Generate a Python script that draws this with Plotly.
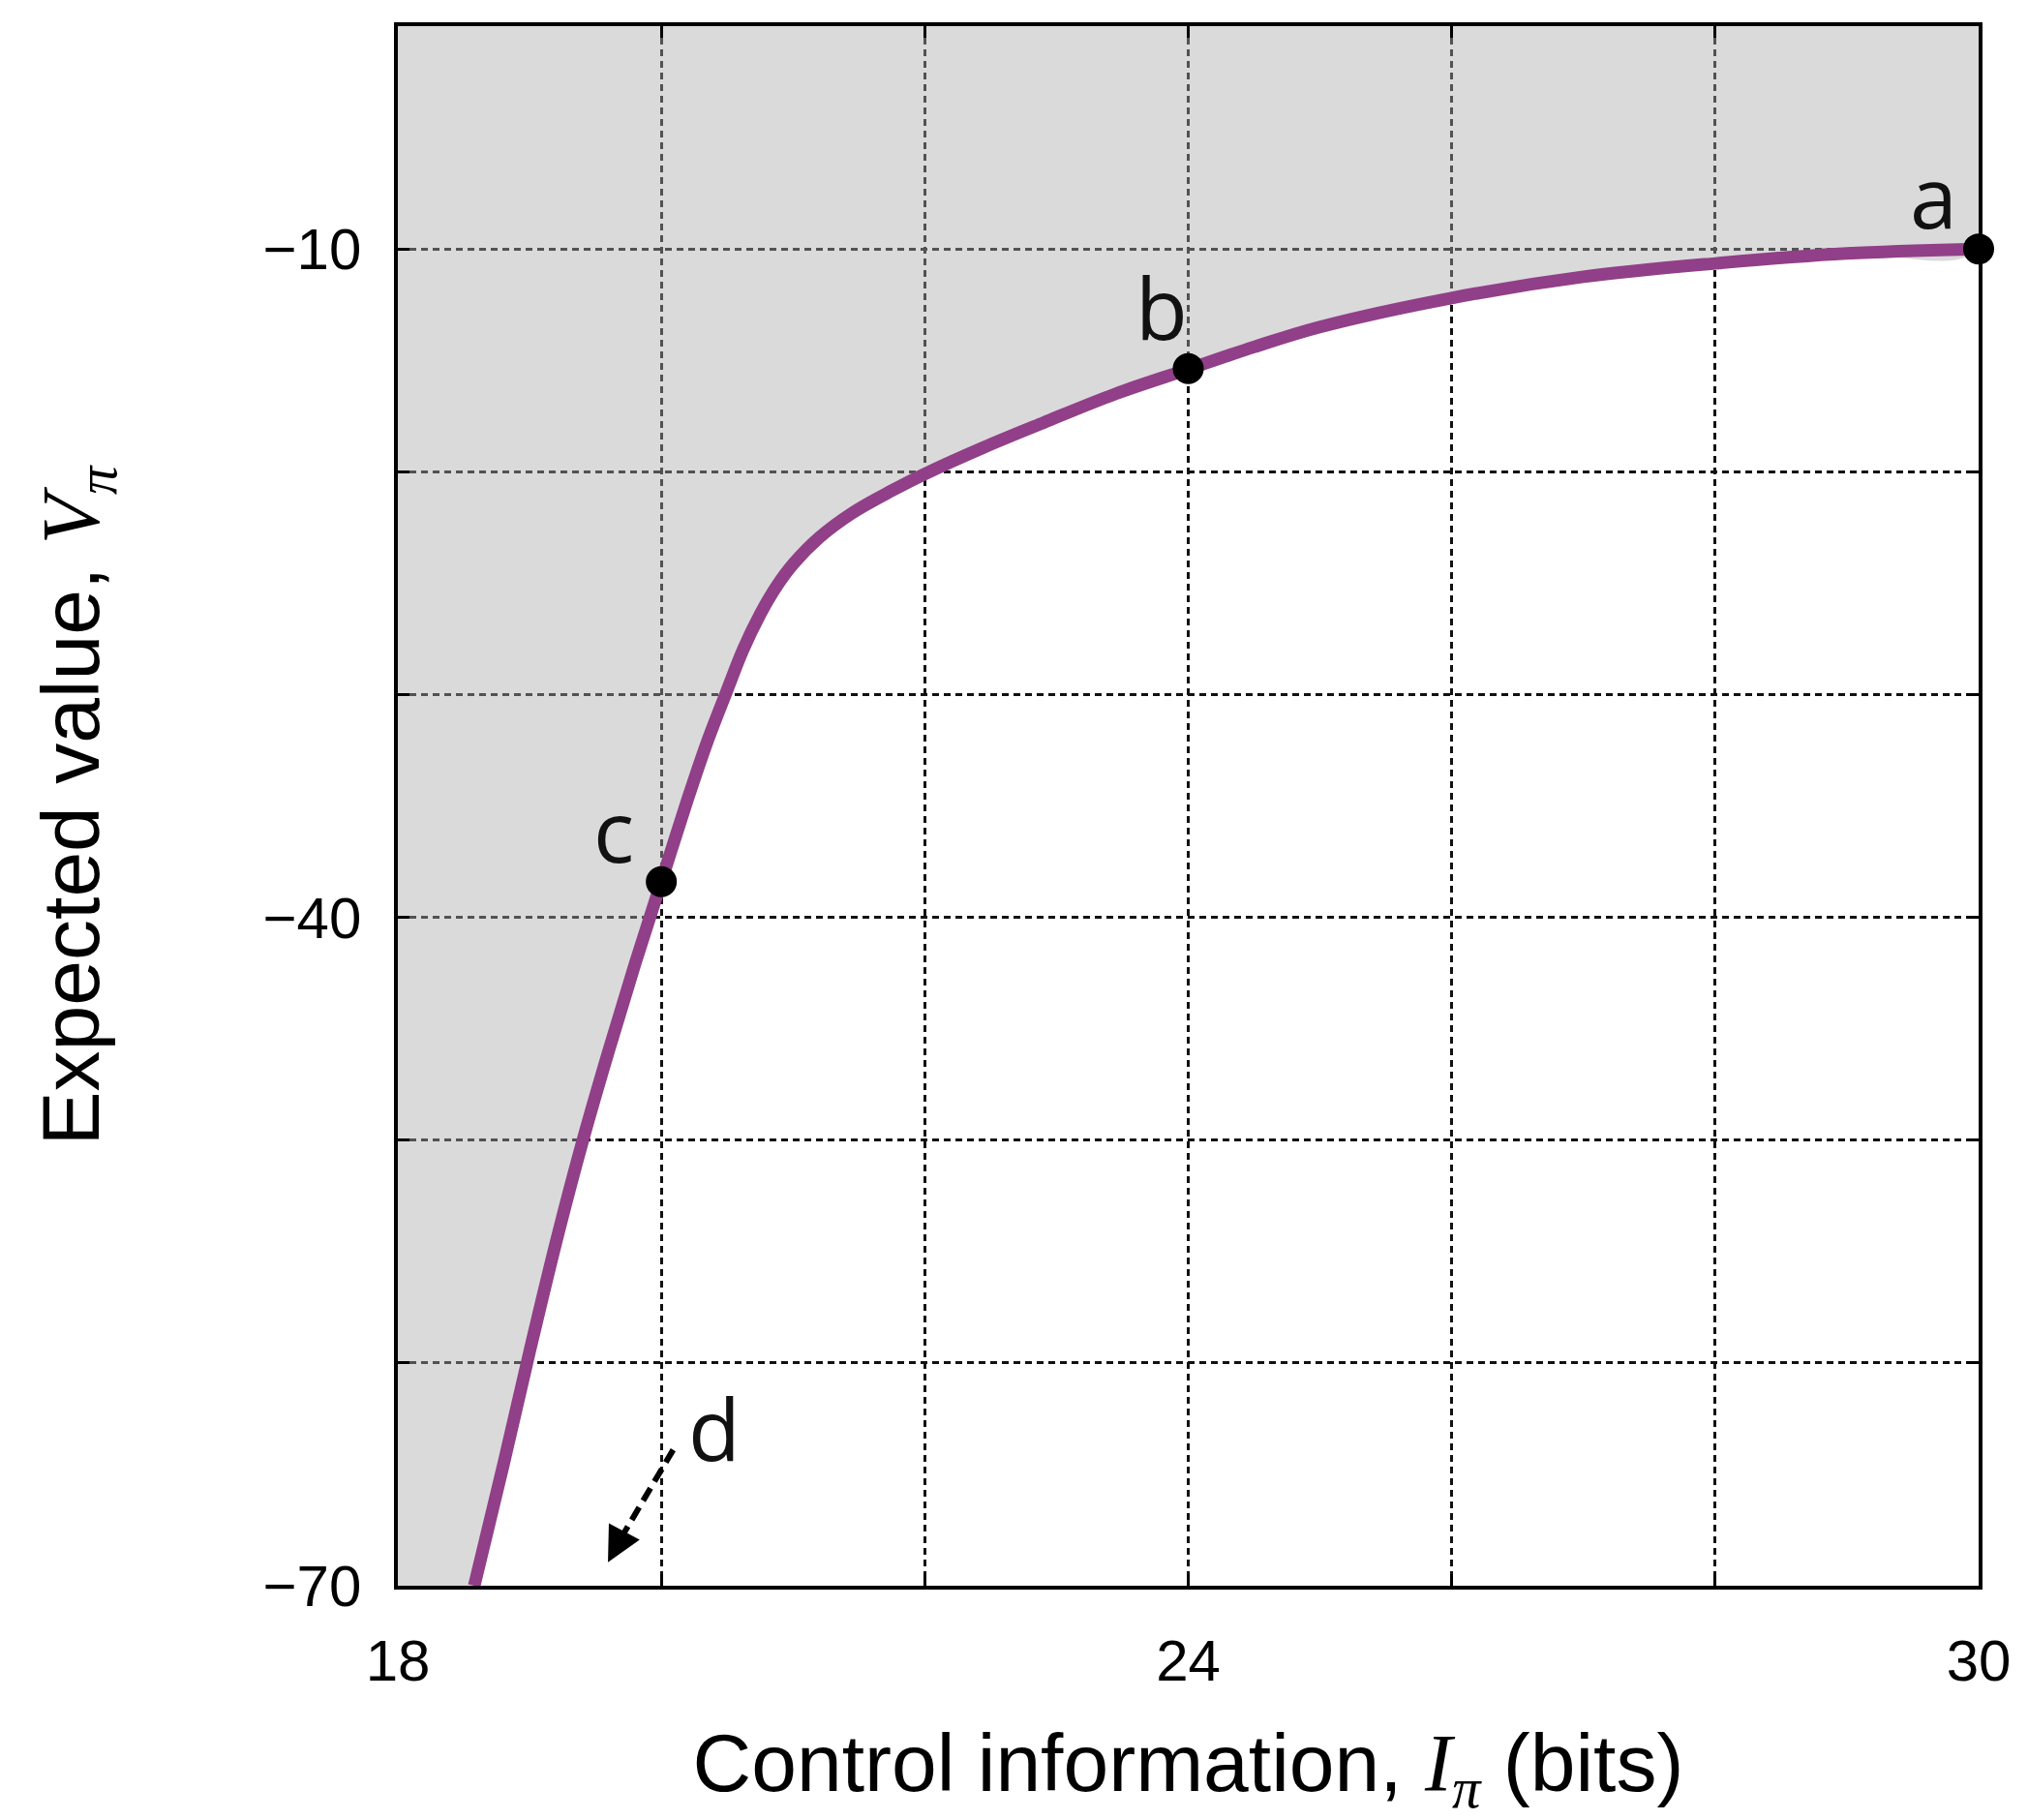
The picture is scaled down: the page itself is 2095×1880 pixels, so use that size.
import plotly.graph_objects as go

# ---- data ----
curve_x = [18.58, 18.80, 19.00, 19.20, 19.40, 19.60, 19.80, 20.00, 20.20, 20.35,
           20.50, 20.62, 20.75, 20.88, 21.00, 21.20, 21.45, 21.75, 22.00, 22.45,
           22.90, 23.45, 24.00, 24.50, 25.00, 26.00, 27.00, 28.00, 29.00, 30.00]
curve_y = [-70.0, -64.6, -59.5, -54.6, -50.1, -46.0, -42.1, -38.4, -34.7, -32.1,
           -29.8, -28.0, -26.4, -25.1, -24.15, -22.95, -21.85, -20.85, -20.1, -18.9,
           -17.8, -16.5, -15.4, -14.4, -13.5, -12.2, -11.25, -10.65, -10.2, -10.0]

point_x = [30.0, 24.0, 20.0]
point_y = [-10.0, -15.37, -38.4]

label_text = ["a", "b", "c", "d"]
label_x = [29.66, 23.80, 19.64, 20.40]
label_y = [-7.6, -12.6, -36.05, -62.9]

# dashed arrow: tail, end of dashes, tip
arrow_x = [20.09, 19.68, 19.595]
arrow_y = [-63.9, -68.0, -68.95]

X_MIN, X_MAX = 18, 30
Y_MIN, Y_MAX = -70, 0
x_tickvals = [18, 20, 22, 24, 26, 28, 30]
x_ticktext = ["18", "", "", "24", "", "", "30"]
y_tickvals = [-70, -60, -50, -40, -30, -20, -10]
y_ticktext = ["\u221270", "", "", "\u221240", "", "", "\u221210"]

PURPLE = "#913f88"
SANS = "Liberation Sans, Arial, Helvetica, sans-serif"
LABEL_FONT = "Open Sans, Noto Sans, sans-serif"

fig = go.Figure()

# shaded region above/left of the curve
fig.add_trace(go.Scatter(
    x=curve_x + [X_MAX, X_MIN, X_MIN],
    y=curve_y + [Y_MAX, Y_MAX, Y_MIN],
    fill="toself", mode="lines", line=dict(width=0, shape="spline", smoothing=1.0),
    fillcolor="rgba(170,170,170,0.43)", hoverinfo="skip", showlegend=False))

# frontier curve
fig.add_trace(go.Scatter(
    x=curve_x, y=curve_y, mode="lines",
    line=dict(color=PURPLE, width=13, shape="spline", smoothing=1.0),
    showlegend=False))

# marked points
fig.add_trace(go.Scatter(
    x=point_x, y=point_y, mode="markers",
    marker=dict(color="black", size=32), showlegend=False, cliponaxis=False))

# dashed arrow shaft (d)
fig.add_trace(go.Scatter(
    x=arrow_x[:2], y=arrow_y[:2], mode="lines",
    line=dict(color="black", width=6, dash="15px,8px"),
    showlegend=False))
# arrow head
fig.add_annotation(x=arrow_x[2], y=arrow_y[2], ax=arrow_x[1], ay=arrow_y[1],
                   xref="x", yref="y", axref="x", ayref="y", text="",
                   showarrow=True, arrowhead=2, arrowsize=1.2, arrowwidth=6,
                   arrowcolor="black", standoff=0)

for t, x, y in zip(label_text, label_x, label_y):
    fig.add_annotation(x=x, y=y, text=t, showarrow=False,
                       font=dict(family=LABEL_FONT, size=88, color="#111"),
                       xanchor="center", yanchor="middle")

MATH = "font-family:'Liberation Serif','Times New Roman',serif"
grid_common = dict(showgrid=True, gridcolor="#111", gridwidth=2.6, griddash="7px,5px")
fig.update_layout(
    width=2095, height=1880,
    margin=dict(l=403, r=59, t=19, b=250),
    paper_bgcolor="white", plot_bgcolor="white",
    font=dict(family=SANS, color="black"),
    xaxis=dict(
        range=[X_MIN, X_MAX], tickvals=x_tickvals, ticktext=x_ticktext,
        ticks="inside", ticklen=12, tickwidth=2.5, tickcolor="black",
        showline=True, linecolor="black", linewidth=3.5, mirror="allticks",
        zeroline=False, tickfont=dict(size=60, family=SANS),
        ticklabelstandoff=22,
        title=dict(text=f"Control information, <span style=\"{MATH}\"><i>I</i><sub><i>π</i></sub></span> (bits)",
                   font=dict(size=84, family=SANS), standoff=44),
        automargin=False, **grid_common),
    yaxis=dict(
        range=[Y_MIN, Y_MAX], tickvals=y_tickvals, ticktext=y_ticktext,
        ticks="inside", ticklen=12, tickwidth=2.5, tickcolor="black",
        showline=True, linecolor="black", linewidth=3.5, mirror="allticks",
        zeroline=False, tickfont=dict(size=60, family=SANS),
        ticklabelstandoff=22,
        title=dict(text=f"Expected value, <span style=\"{MATH}\"><i>V</i><sub><i>π</i></sub></span>",
                   font=dict(size=84, family=SANS), standoff=142),
        automargin=False, **grid_common),
)

fig.write_html("out.html")
